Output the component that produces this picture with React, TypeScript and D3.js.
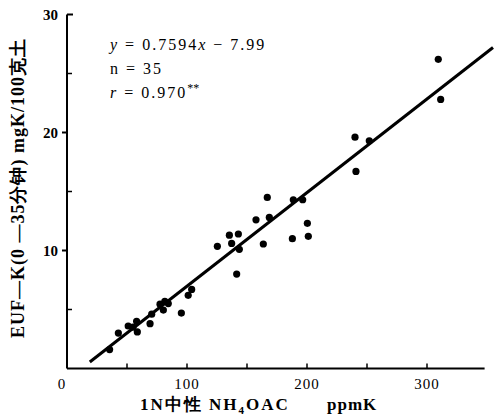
import React, { useRef, useEffect } from 'react';
import { select, scaleLinear, line } from 'd3';

// NH4OAC-K (ppmK) vs EUF-K (mgK/100g)
const xValues = [35.5, 42.8, 51, 55, 58, 58.6, 69.2, 70.6, 77.5, 80.3, 81.5, 84.4, 95.3, 101, 103.9,
  125.3, 135.3, 137.2, 142.8, 143.6, 141.4, 157.5, 163.6, 166.9, 168.6, 187.8, 188.6, 196.4, 200.3, 201.1,
  240, 240.8, 251.9, 309.4, 311.4];
const yValues = [1.6, 3.0, 3.6, 3.5, 4.0, 3.1, 3.8, 4.6, 5.45, 4.95, 5.7, 5.5, 4.7, 6.2, 6.7,
  10.35, 11.3, 10.6, 11.4, 10.1, 8.0, 12.6, 10.55, 14.5, 12.8, 11.0, 14.3, 14.3, 12.3, 11.2,
  19.6, 16.7, 19.3, 26.2, 22.8];
const fitX = [19, 355];
const fitY = [0.55, 27.2];
const xTicks = [0, 100, 200, 300];
const xMinor = [50, 150, 250];
const yTicks = [10, 20, 30];
const yMinor = [5, 15, 25];

const W = 501;
const H = 415;
const serif = '"Liberation Serif", "DejaVu Serif", serif';

const App = () => {
  const svgRef = useRef<SVGSVGElement>(null);

  useEffect(() => {
    const svg = select(svgRef.current);
    svg.selectAll('*').remove();

    const x = scaleLinear().domain([0, 300]).range([67, 427]);
    const y = scaleLinear().domain([0, 30]).range([368.5, 14.5]);

    // axes
    svg.append('line')
      .attr('x1', x(0)).attr('x2', x(0))
      .attr('y1', y(30)).attr('y2', y(0))
      .attr('stroke', '#000').attr('stroke-width', 2);
    svg.append('line')
      .attr('x1', x(0)).attr('x2', x(348))
      .attr('y1', y(0)).attr('y2', y(0))
      .attr('stroke', '#000').attr('stroke-width', 2);

    // y ticks: majors outward, minors and top inward
    svg.selectAll('.ytick')
      .data(yTicks)
      .join('line')
      .attr('class', 'ytick')
      .attr('x1', d => (d === 30 ? x(0) : x(0) - 5))
      .attr('x2', d => (d === 30 ? x(0) + 6 : x(0)))
      .attr('y1', d => y(d)).attr('y2', d => y(d))
      .attr('stroke', '#000').attr('stroke-width', 2);
    svg.selectAll('.yminor')
      .data(yMinor)
      .join('line')
      .attr('class', 'yminor')
      .attr('x1', x(0)).attr('x2', x(0) + 5)
      .attr('y1', d => y(d)).attr('y2', d => y(d))
      .attr('stroke', '#000').attr('stroke-width', 1.5);
    svg.selectAll('.xtick')
      .data([...xTicks.filter(d => d > 0), ...xMinor])
      .join('line')
      .attr('class', 'xtick')
      .attr('x1', d => x(d)).attr('x2', d => x(d))
      .attr('y1', y(0)).attr('y2', y(0) - 5)
      .attr('stroke', '#000').attr('stroke-width', 1.5);

    // tick labels
    svg.selectAll('.xlabel')
      .data(xTicks)
      .join('text')
      .attr('class', 'xlabel')
      .attr('x', d => (d === 0 ? x(d) - 5 : x(d)))
      .attr('y', 389)
      .attr('text-anchor', 'middle')
      .attr('font-family', serif)
      .attr('font-size', 15)
      .attr('letter-spacing', 1)
      .text(d => d);
    svg.selectAll('.ylabel')
      .data(yTicks)
      .join('text')
      .attr('class', 'ylabel')
      .attr('x', x(0) - 9)
      .attr('y', d => y(d) + 5)
      .attr('text-anchor', 'end')
      .attr('font-family', serif)
      .attr('font-size', 15)
      .attr('font-weight', 'bold')
      .text(d => d);

    // regression line
    const fit = line<number>()
      .x((d, i) => x(fitX[i]))
      .y(d => y(d));
    svg.append('path')
      .attr('d', fit(fitY))
      .attr('fill', 'none')
      .attr('stroke', '#000')
      .attr('stroke-width', 3);

    // points
    svg.selectAll('.dot')
      .data(xValues)
      .join('circle')
      .attr('class', 'dot')
      .attr('cx', d => x(d))
      .attr('cy', (d, i) => y(yValues[i]))
      .attr('r', 3.6)
      .attr('fill', '#000');

    // annotations
    const ann = svg.append('g')
      .attr('font-family', serif)
      .attr('font-size', 16)
      .attr('letter-spacing', 2);
    const eq = ann.append('text').attr('x', 110).attr('y', 50);
    eq.append('tspan').attr('font-style', 'italic').text('y');
    eq.append('tspan').text(' = 0.7594');
    eq.append('tspan').attr('font-style', 'italic').text('x');
    eq.append('tspan').text(' − 7.99');
    ann.append('text').attr('x', 110).attr('y', 74).text('n = 35');
    const r = ann.append('text').attr('x', 110).attr('y', 98);
    r.append('tspan').attr('font-style', 'italic').text('r');
    r.append('tspan').text(' = 0.970');
    r.append('tspan').attr('dy', -6).attr('font-size', 12).attr('letter-spacing', 0).text('**');

    // axis titles
    const xt = svg.append('text')
      .attr('x', 140).attr('y', 410)
      .attr('font-family', serif)
      .attr('font-size', 17)
      .attr('letter-spacing', 2)
      .attr('font-weight', 'bold');
    xt.append('tspan').text('1N中性 NH');
    xt.append('tspan').attr('dy', 4).attr('font-size', 11).text('4');
    xt.append('tspan').attr('dy', -4).text('OAC');
    svg.append('text')
      .attr('x', 327).attr('y', 410)
      .attr('font-family', serif)
      .attr('font-size', 17)
      .attr('letter-spacing', 1)
      .attr('font-weight', 'bold')
      .text('ppmK');

    svg.append('text')
      .attr('transform', 'translate(24,188) rotate(-90)')
      .attr('text-anchor', 'middle')
      .attr('font-family', serif)
      .attr('font-size', 18)
      .attr('letter-spacing', 1)
      .attr('font-weight', 'bold')
      .text('EUF—K(0 —35分钟) mgK/100克土');
  }, []);

  return (
    <svg
      ref={svgRef}
      width={W}
      height={H}
      style={{ position: 'absolute', left: 0, top: 0, background: '#fff' }}
    />
  );
};

export default App;
